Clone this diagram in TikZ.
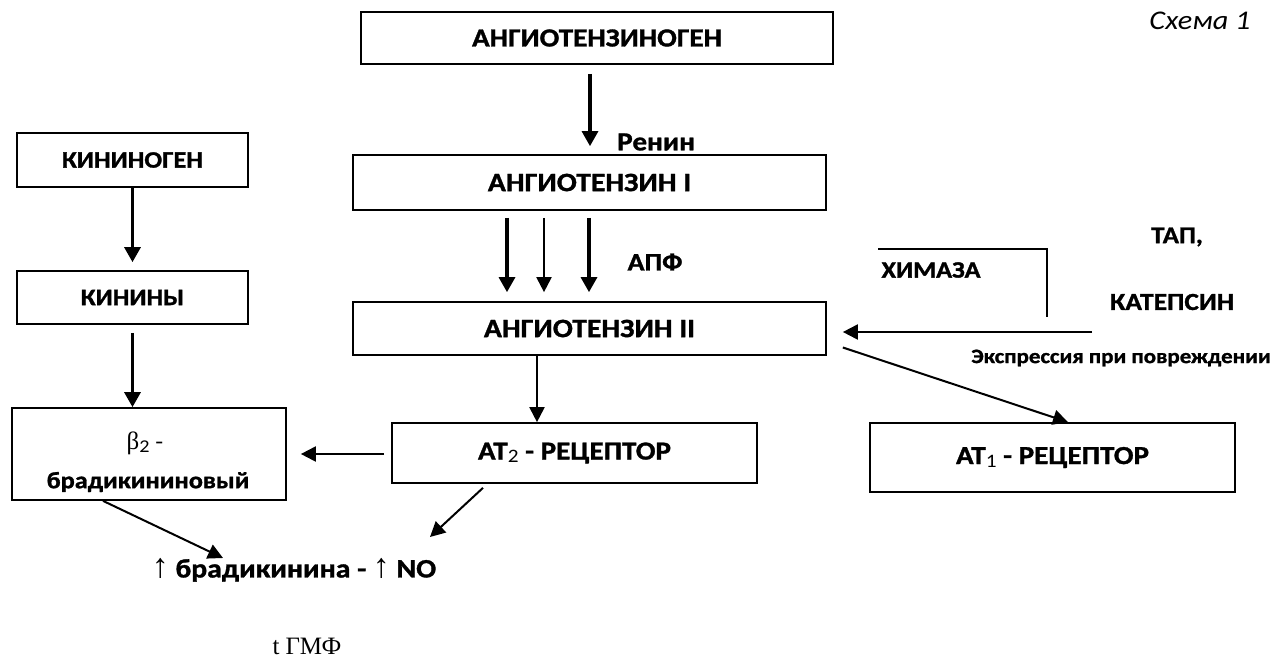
\documentclass[tikz,border=0pt]{standalone}
\usepackage{fontspec}
\setmainfont{Carlito}[FakeStretch=1.12, BoldFeatures={FakeBold=1.2}]
\newfontfamily\seriffont{Liberation Serif}
\usetikzlibrary{arrows.meta,calc}
\newcommand{\fs}[1]{\fontsize{#1}{#1}\selectfont}
\tikzset{
  box/.style={draw, line width=1.7pt, inner sep=0pt, font=\bfseries},
  lbl/.style={inner sep=0pt, font=\bfseries},
  arr/.style={line width=3.1pt, -{Triangle[width=16pt,length=15pt]}},
  arrthin/.style={line width=2pt, -{Triangle[width=15pt,length=15pt]}},
}
\begin{document}
\begin{tikzpicture}[x=1pt,y=-1pt]
\useasboundingbox (0,0) rectangle (1276,659);
% boxes
\node[box, minimum width=472pt, minimum height=52pt, font=\bfseries\fs{26}] (agen) at (597,38) {АНГИОТЕНЗИНОГЕН};
\node[box, minimum width=473pt, minimum height=55pt, font=\bfseries\fs{26.5}] (ang1) at (589.5,182.5) {АНГИОТЕНЗИН I};
\node[box, minimum width=473pt, minimum height=53pt, font=\bfseries\fs{26.5}] (ang2) at (589.5,328.5) {АНГИОТЕНЗИН II};
\node[box, minimum width=365pt, minimum height=60pt, font=\bfseries\fs{26}] (at2) at (574.5,453) {AT\raisebox{-3pt}{\mdseries\fs{19}2} - РЕЦЕПТОР};
\node[box, minimum width=365pt, minimum height=69pt, font=\bfseries\fs{26}] (at1) at (1052.5,457.5) {AT\raisebox{-3pt}{\mdseries\fs{19}1} - РЕЦЕПТОР};
\node[box, minimum width=231pt, minimum height=54pt, font=\bfseries\fs{23.5}] (kgen) at (132.5,160) {КИНИНОГЕН};
\node[box, minimum width=231pt, minimum height=53pt, font=\bfseries\fs{23.5}] (kin) at (132.5,297.5) {КИНИНЫ};
\node[box, minimum width=274pt, minimum height=92pt] (b2) at (149,454) {};
\node[inner sep=0pt, font=\fs{23}] (b2a) at (145,443) {{\seriffont\fs{25}β}\raisebox{-3pt}{\fs{18}2} -};
\node[lbl, font=\bfseries\fs{23.5}] (b2b) at (148,482) {брадикининовый};
% labels
\node[lbl, font=\bfseries\fs{26}, anchor=west] (renin) at (617,142) {Ренин};
\node[lbl, font=\bfseries\fs{25}] (apf) at (655,262) {АПФ};
\node[lbl, font=\bfseries\fs{23.5}] (chym) at (931,270) {ХИМАЗА};
\node[lbl, font=\bfseries\fs{24}] (tap) at (1177,237) {ТАП,};
\node[lbl, font=\bfseries\fs{24.5}] (cat) at (1172,302) {КАТЕПСИН};
\node[lbl, font=\bfseries\fs{20.5}] (expr) at (1121,358) {Экспрессия при повреждении};
\node[lbl, font=\bfseries\fs{26.5}] (brad) at (294,570) {{\mdseries\seriffont\fs{34}↑} брадикинина - {\mdseries\seriffont\fs{34}↑} NO};
\node[inner sep=0pt, font=\seriffont\fs{25}] (gmf) at (307,646) {t ГМФ};
\node[inner sep=0pt, font=\itshape\fs{27}] (scheme) at (1200,21) {Схема 1};
% coordinates
\coordinate (enz) at (1092,332);
\coordinate (bradL) at (223,558);
\coordinate (bradR) at (430,537);
% arrows
\draw[arr] ($(agen.south -| 590,0)+(0,9)$) -- ($(ang1.north -| 590,0)+(0,-8)$);
\draw[arr] ($(ang1.south -| 507,0)+(0,7)$) -- ($(ang2.north -| 507,0)+(0,-9)$);
\draw[arrthin] ($(ang1.south -| 544,0)+(0,7)$) -- ($(ang2.north -| 544,0)+(0,-9)$);
\draw[arr] ($(ang1.south -| 589,0)+(0,7)$) -- ($(ang2.north -| 589,0)+(0,-9)$);
\draw[arrthin] (ang2.south -| 537,0) -- (at2.north -| 537,0);
\draw[arr] (kgen.south) -- ($(kin.north)+(0,-8)$);
\draw[arr] ($(kin.south)+(0,8)$) -- (b2.north -| kin.south);
\draw[arrthin] ($(at2.west)+(-7,1)$) -- ($(b2.east)+(14,0)$);
\draw[arrthin] (b2.south -| 103,0) -- (bradL);
\draw[arrthin] ($(at2.south -| 483,0)+(0,4)$) -- (bradR);
\draw[arrthin] ($(ang2.east)+(16,19)$) -- (at1.north -| 1068,0);
\draw[arrthin] (enz) -- ($(ang2.east)+(16,3.5)$);
\draw[line width=1.3pt] (878,249) -- (1047,249) -- (1047,317);
\end{tikzpicture}
\end{document}
